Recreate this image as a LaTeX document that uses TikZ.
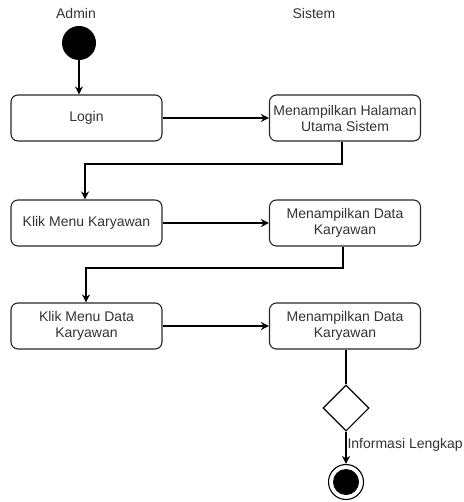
\documentclass[tikz,border=0pt]{standalone}
\usepackage{fontspec}
\setmainfont{Liberation Sans}
\usepackage{tikz}
\usetikzlibrary{arrows.meta, shapes.geometric}

\begin{document}
\begin{tikzpicture}[x=1pt, y=1pt, font=\fontsize{14}{16}\selectfont, text=black!80,
    act/.style={draw=black!85, rounded corners=7pt, line width=1.1pt, minimum width=151pt, minimum height=46pt, align=center, inner sep=2pt},
    flow/.style={-{Stealth[length=8pt,width=8pt]}, line width=1.1pt}]
%\tikzstyle{lane}=[text=black!80]
\useasboundingbox (0,0) rectangle (463,-502);
\begin{scope}
    \node (admin) at (76,-14) {Admin};
    \node (sistem) at (314,-14) {Sistem};
    \node[circle, fill=black, minimum size=34pt, inner sep=0pt] (start) at (79,-43) {};

    \node[act] (login) at (86.5,-118) {Login};
    \node[act] (halaman) at (345,-118) {Menampilkan Halaman\\Utama Sistem};
    \node[act] (klikkary) at (86.5,-223) {Klik Menu Karyawan};
    \node[act] (datakary) at (345,-223) {Menampilkan Data\\Karyawan};
    \node[act] (klikdata) at (86.5,-326) {Klik Menu Data\\Karyawan};
    \node[act] (datakary2) at (345,-326) {Menampilkan Data\\Karyawan};

    \node[diamond, draw, line width=1.1pt, minimum size=46pt, inner sep=0pt] (cek) at (346,-408) {};
    \node[circle, draw, line width=1.1pt, minimum size=35pt, inner sep=0pt] (stop) at (346,-482) {};
    \fill (stop.center) circle (13pt);
\end{scope}
\draw[flow] (start) -- (start |- login.north);
\path [flow] (login) edge (halaman);
\path [flow] (klikkary) edge (datakary);
\path [flow] (klikdata) edge (datakary2);
\draw[flow] (halaman.south -| 342,0) |- (85,-164) -- (klikkary.north -| 85,0);
\draw[flow] (datakary.south -| 343,0) |- (86,-268) -- (klikdata.north -| 86,0);
\draw[line width=1.1pt] (datakary2.south -| cek.north) -- (cek.north);
\draw[flow] (cek.south) -- node[right, pos=0.4, inner sep=1pt] {Informasi Lengkap} (stop.north);
\end{tikzpicture}
\end{document}
